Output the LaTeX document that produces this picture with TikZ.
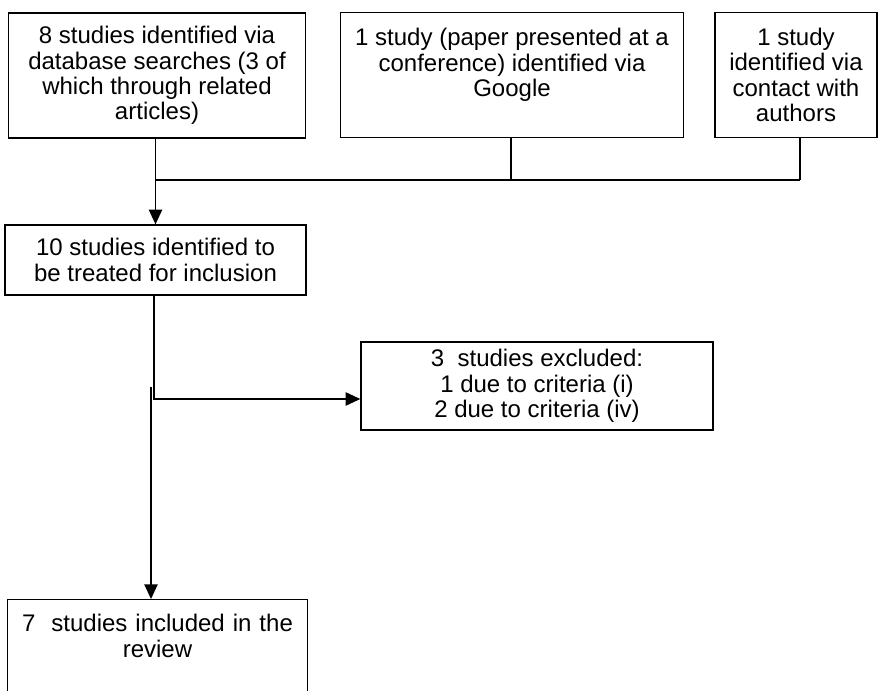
\documentclass[tikz,border=0pt]{standalone}
\usepackage{fontspec}
\setmainfont{Liberation Sans}
\usetikzlibrary{arrows.meta}
\newcommand{\px}{0.75pt}

\begin{document}
\begin{tikzpicture}[
  x=\px, y=-\px,
  studybox/.style={draw,line width=1pt,align=center,inner sep=4pt,
    font=\fontsize{18}{19}\selectfont},
  ]
  \tikzset{%
    flow/.style={
      line width=1pt,
      -{Triangle[width=10pt,length=11pt]},
    },
  }
  \useasboundingbox (0,0) rectangle (882,691);
  %Nodes
  \node[studybox,minimum width=297*\px,minimum height=125*\px](db) at (157,75.5)
    {8 studies identified via\\database searches (3 of\\which through related\\articles)};
  \node[studybox,minimum width=343*\px,minimum height=125*\px](conf) at (512,75)
    {1 study (paper presented at a\\conference) identified via\\Google\\[-6pt]\strut};
  \node[studybox,minimum width=162*\px,minimum height=125*\px](contact) at (796,75)
    {1 study\\identified via\\contact with\\authors};
  \node[studybox,minimum width=301*\px,minimum height=70*\px](screen) at (155.5,260)
    {10 studies identified to\\be treated for inclusion};
  \node[studybox,minimum width=352*\px,minimum height=88*\px](excl) at (537,386)
    {3\ \ studies excluded:\\1 due to criteria (i)\\2 due to criteria (iv)};
  \node[studybox,text width=289*\px,inner ysep=11pt,text depth=80pt,anchor=north](incl) at (157.5,599)
    {7\ \ studies included in the\\review};
  \coordinate (jdb) at (155.5,180);
  \coordinate (jconf) at (511,180);
  \coordinate (jcontact) at (800,180);
  \coordinate (bend) at (154,399);
  \coordinate (split) at (151,387);
  %Lines
  \draw[line width=1pt] (db.south -| jdb) -- (jdb);
  \draw[line width=1pt] (conf.south -| jconf) -- (jconf);
  \draw[line width=1pt] (contact.south -| jcontact) -- (jcontact);
  \draw[line width=1pt] (jdb) -- (jcontact);
  \draw[flow] (jdb) -- (jdb |- screen.north);
  \draw[flow] (screen.south -| bend) -- (bend) -- (bend -| excl.west);
  \draw[flow] (split) -- (split |- incl.north);
\end{tikzpicture}
\end{document}
